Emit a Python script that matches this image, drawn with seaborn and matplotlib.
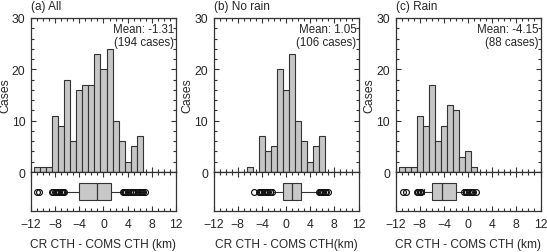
import numpy as np
import pandas as pd
import matplotlib
matplotlib.use("Agg")
import matplotlib.pyplot as plt
import seaborn as sns
from matplotlib.ticker import MultipleLocator

# histogram counts per 1-km bin (bin centres in km)
centers_all = [-11, -10, -9, -8, -7, -6, -5, -4, -3, -2, -1, 0, 1, 2, 3, 4, 5, 6]
counts_all = [1, 1, 1, 11, 9, 18, 6, 16, 17, 17, 23, 20, 24, 10, 6, 2, 5, 7]

centers_norain = [-6, -5, -4, -3, -2, -1, 0, 1, 2, 3, 4, 5, 6]
counts_norain = [1, 0, 7, 4, 5, 20, 16, 23, 10, 6, 2, 5, 7]

centers_rain = [-11, -10, -9, -8, -7, -6, -5, -4, -3, -2, -1, 0, 1]
counts_rain = [1, 1, 1, 11, 9, 17, 6, 9, 13, 12, 3, 4, 1]

# box plot summary: q1, median, q3, whisker low, whisker high
box_all = [-4.1, -1.0, 1.2, -6.3, 3.0]
box_norain = [-0.5, 1.0, 2.4, -2.1, 5.3]
box_rain = [-6.0, -4.25, -2.0, -7.3, -0.9]

# outliers
fliers_all = [-11.0, -10.6, -8.5, -8.3, -8.1, -7.9, -7.7, -7.5, -7.3, -7.1, -6.9, -6.7, -6.5,
              3.2, 3.4, 3.6, 3.8, 4.1, 4.4, 4.7, 4.9, 5.1, 5.4, 5.7, 6.0, 6.2, 6.4, 6.6, 6.9]
fliers_norain = [-5.3, -4.5, -4.3, -4.1, -3.9, -3.7, -3.5, -3.2, -3.0, -2.7, -2.4,
                 5.4, 5.6, 5.8, 6.0, 6.2, 6.4, 6.6, 6.9]
fliers_rain = [-10.7, -10.3, -8.4, -8.3, -8.2, -8.0, -7.9, -7.7,
               -0.7, -0.4, -0.1, 0.2, 0.5, 0.7, 0.9, 1.3]

titles = ["(a) All", "(b) No rain", "(c) Rain"]
means = ["Mean: -1.31\n(194 cases)", "Mean: 1.05\n(106 cases)", "Mean: -4.15\n(88 cases)"]
xlabels = ["CR CTH - COMS CTH (km)", "CR CTH - COMS CTH(km)", "CR CTH - COMS CTH (km)"]

sns.set_style("ticks")
plt.rcParams['font.family'] = ['Liberation Sans', 'DejaVu Sans']
plt.rcParams['font.size'] = 8

W, H = 547, 253
fig = plt.figure(figsize=(W / 100, H / 100), dpi=100)

panels = [
    (centers_all, counts_all, box_all, fliers_all, 31),
    (centers_norain, counts_norain, box_norain, fliers_norain, 213.5),
    (centers_rain, counts_rain, box_rain, fliers_rain, 395.5),
]

bar_col = "#c6c6c6"
edge_col = "#333333"

for i, (cen, cnt, bx, fl, left) in enumerate(panels):
    w = 145 / W
    ax = fig.add_axes([left / W, (H - 173) / H, w, (173 - 19) / H])
    axb = fig.add_axes([left / W, (H - 212) / H, w, (212 - 173) / H])

    df = pd.DataFrame({"diff": cen, "n": cnt})
    sns.histplot(data=df, x="diff", weights="n", binwidth=1,
                 binrange=(cen[0] - 0.5, cen[-1] + 0.5), color=bar_col, edgecolor=edge_col,
                 linewidth=0.8, alpha=1, ax=ax)
    ax.set_xlim(-12, 12)
    ax.set_ylim(0, 30)
    ax.set_yticks([0, 10, 20, 30])
    ax.yaxis.set_minor_locator(MultipleLocator(2))
    ax.xaxis.set_major_locator(MultipleLocator(4))
    ax.xaxis.set_minor_locator(MultipleLocator(1))
    ax.tick_params(which='both', direction='in', top=True, right=True, labelbottom=False,
                   width=0.8, color=edge_col, labelsize=8.8)
    ax.tick_params(which='major', length=3.5)
    ax.tick_params(which='minor', length=2)
    ax.tick_params(axis='y', pad=4)
    ax.set_ylabel("Cases", fontsize=8.8, labelpad=0.5)
    ax.set_xlabel("")
    ax.text(0.985, 0.97, means[i], transform=ax.transAxes, ha='right', va='top',
            fontsize=8.3, linespacing=1.1)
    ax.text(0.0, 1.04, titles[i], transform=ax.transAxes, ha='left', va='bottom', fontsize=8.5)

    stats = [dict(q1=bx[0], med=bx[1], q3=bx[2], whislo=bx[3], whishi=bx[4], fliers=fl)]
    axb.bxp(stats, positions=[0.5], widths=0.45, orientation='horizontal', patch_artist=True,
            boxprops=dict(facecolor="#c8c8c8", edgecolor=edge_col, linewidth=0.8),
            medianprops=dict(color=edge_col, linewidth=0.9),
            whiskerprops=dict(color=edge_col, linewidth=0.8),
            capprops=dict(color=edge_col, linewidth=0.8),
            capwidths=0.15,
            flierprops=dict(marker='o', markerfacecolor='none', markeredgecolor='#111111',
                            markersize=4.2, markeredgewidth=0.85))
    axb.set_xlim(-12, 12)
    axb.set_ylim(0, 1)
    axb.set_yticks([])
    axb.xaxis.set_major_locator(MultipleLocator(4))
    axb.xaxis.set_minor_locator(MultipleLocator(1))
    axb.tick_params(which='both', direction='in', top=True, width=0.8, color=edge_col,
                    labelsize=8.8)
    axb.tick_params(which='major', length=3.5, pad=5)
    axb.tick_params(which='minor', length=2)
    axb.set_xticks([-12, -8, -4, 0, 4, 8, 12])
    axb.set_xlabel(xlabels[i], fontsize=8.6, labelpad=6)
    for a in (ax, axb):
        for s in a.spines.values():
            s.set_linewidth(0.9)
            s.set_color(edge_col)

fig.savefig("out.png", dpi=100)
